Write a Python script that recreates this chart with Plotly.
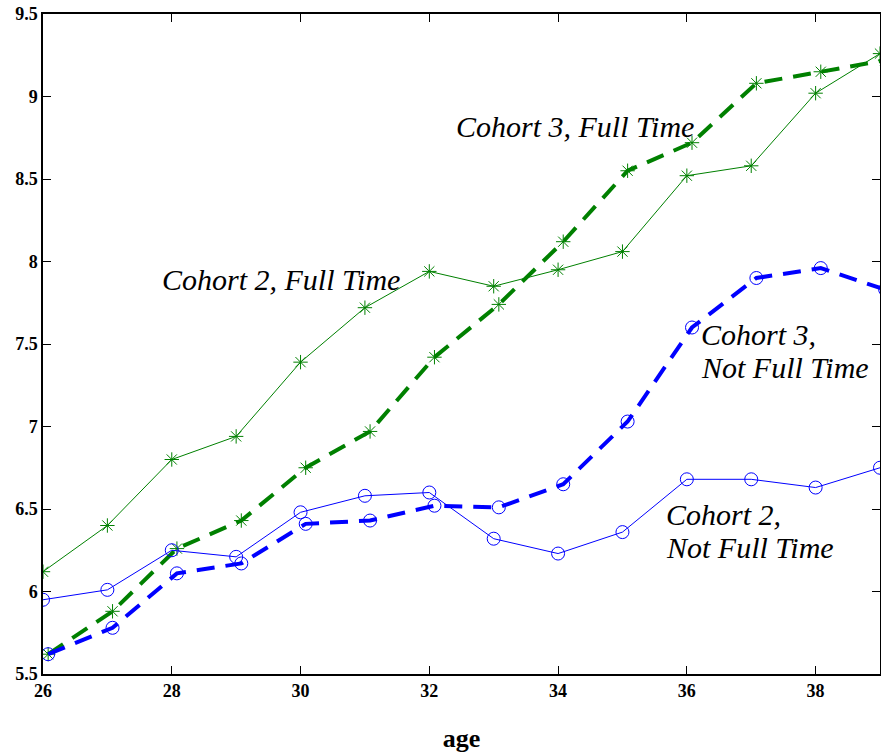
import plotly.graph_objects as go

ages = [26, 27, 28, 29, 30, 31, 32, 33, 34, 35, 36, 37, 38, 39]
# cohort 3 series are plotted with a small horizontal offset in the original
ages_c3 = [26.08, 27.08, 28.08, 29.08, 30.08, 31.08, 32.08, 33.08, 34.08, 35.08, 36.08, 37.08, 38.08, 39.08]

c2_full = [6.12, 6.40, 6.80, 6.94, 7.39, 7.72, 7.94, 7.85, 7.95, 8.06, 8.52, 8.58, 9.02, 9.26]
c3_full = [5.62, 5.88, 6.26, 6.43, 6.75, 6.97, 7.42, 7.74, 8.12, 8.55, 8.72, 9.08, 9.15, 9.22]
c2_notfull = [5.95, 6.01, 6.25, 6.21, 6.48, 6.58, 6.60, 6.32, 6.23, 6.36, 6.68, 6.68, 6.63, 6.75]
c3_notfull = [5.62, 5.78, 6.11, 6.17, 6.41, 6.43, 6.52, 6.51, 6.65, 7.03, 7.60, 7.90, 7.96, 7.83]

label_texts = ["Cohort 3, Full Time", "Cohort 2, Full Time",
               "Cohort 3,", "Not Full Time", "Cohort 2,", "Not Full Time"]
label_x = [32.38, 27.82, 36.19, 36.19, 35.65, 35.65]
label_y = [8.82, 7.89, 7.56, 7.355, 6.464, 6.264]

GREEN = "#008000"
BLUE = "#0000ff"
SERIF = "Liberation Serif, Times New Roman, Times, serif"

fig = go.Figure()
fig.add_trace(go.Scatter(x=ages, y=c2_full, mode="lines+markers",
                         line=dict(color=GREEN, width=1),
                         marker=dict(symbol="asterisk-open", size=12, color=GREEN, line=dict(width=1, color=GREEN))))
fig.add_trace(go.Scatter(x=ages_c3, y=c3_full, mode="lines+markers",
                         line=dict(color=GREEN, width=4, dash="18px,11px"),
                         marker=dict(symbol="asterisk-open", size=12, color=GREEN, line=dict(width=1, color=GREEN))))
fig.add_trace(go.Scatter(x=ages, y=c2_notfull, mode="lines+markers",
                         line=dict(color=BLUE, width=1),
                         marker=dict(symbol="circle-open", size=13, color=BLUE, line=dict(width=1, color=BLUE))))
fig.add_trace(go.Scatter(x=ages_c3, y=c3_notfull, mode="lines+markers",
                         line=dict(color=BLUE, width=4, dash="18px,11px"),
                         marker=dict(symbol="circle-open", size=13, color=BLUE, line=dict(width=1, color=BLUE))))

for text, x, y in zip(label_texts, label_x, label_y):
    fig.add_annotation(x=x, y=y, text=text, showarrow=False, xanchor="left", yanchor="middle",
                       align="left",
                       font=dict(family=SERIF, size=30, color="black", style="italic"))

tickfont = dict(family=SERIF, size=18, color="black", weight="bold")
fig.update_xaxes(range=[26, 39], tickmode="linear", tick0=26, dtick=2,
                 showline=True, linecolor="black", linewidth=1.5, mirror="ticks",
                 ticks="inside", ticklen=8, tickcolor="black", automargin=False,
                 showgrid=False, zeroline=False, tickfont=tickfont,
                 title=dict(text="age", font=dict(family=SERIF, size=26, color="black", weight="bold"),
                            standoff=28))
fig.update_yaxes(range=[5.5, 9.5], tickmode="linear", tick0=5.5, dtick=0.5,
                 showline=True, linecolor="black", linewidth=1.5, mirror="ticks",
                 ticks="inside", ticklen=8, tickcolor="black", automargin=False,
                 showgrid=False, zeroline=False, tickfont=tickfont)
fig.update_layout(width=881, height=756, showlegend=False,
                  plot_bgcolor="white", paper_bgcolor="white",
                  margin=dict(l=43, r=1, t=14, b=82))
fig.write_html("out.html", config={"displayModeBar": False},
               post_script="document.body.style.margin='0';document.body.style.overflow='hidden';")
